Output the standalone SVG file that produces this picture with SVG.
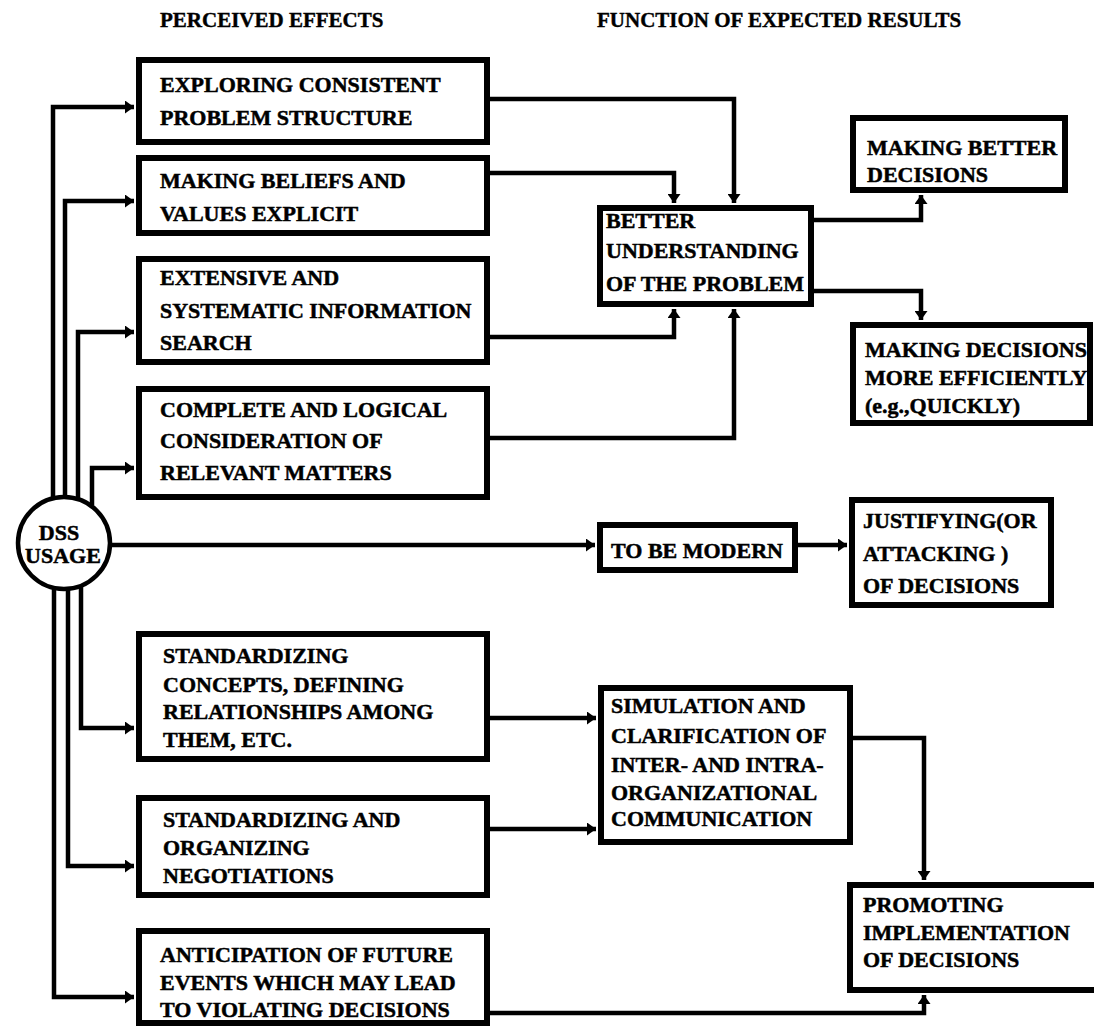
<svg xmlns="http://www.w3.org/2000/svg" width="1094" height="1026" viewBox="0 0 1094 1026">
<defs>
<style>
.box{fill:#fff;stroke:#000;stroke-width:6}
.ln{fill:none;stroke:#000;stroke-width:4.5}
.t{font-family:"Liberation Serif","Times New Roman",serif;font-weight:bold;font-size:22px;fill:#000;stroke:#000;stroke-width:0.5}
.h{font-family:"Liberation Serif","Times New Roman",serif;font-weight:bold;font-size:21px;fill:#000;stroke:#000;stroke-width:0.4}
</style>
<marker id="ah" markerUnits="userSpaceOnUse" markerWidth="9" markerHeight="13" refX="9" refY="6.5" orient="auto">
<path d="M0,0 L9,6.5 L0,13 z" fill="#000"/>
</marker>
</defs>
<rect width="1094" height="1026" fill="#fff"/>
<text class="h" x="160" y="27">PERCEIVED EFFECTS</text>
<text class="h" x="597" y="27">FUNCTION OF EXPECTED RESULTS</text>
<g id="connectors">
<path class="ln" d="M53,500 V107 H134" marker-end="url(#ah)"/>
<path class="ln" d="M65,500 V201 H134" marker-end="url(#ah)"/>
<path class="ln" d="M78,500 V332 H134" marker-end="url(#ah)"/>
<path class="ln" d="M92,505 V468 H134" marker-end="url(#ah)"/>
<path class="ln" d="M54,585 V997 H134" marker-end="url(#ah)"/>
<path class="ln" d="M68,585 V866 H134" marker-end="url(#ah)"/>
<path class="ln" d="M81,585 V728 H134" marker-end="url(#ah)"/>
<path class="ln" d="M110,545 H595" marker-end="url(#ah)"/>
<path class="ln" d="M798,545 H847" marker-end="url(#ah)"/>
<path class="ln" d="M490,99 H734 V203" marker-end="url(#ah)"/>
<path class="ln" d="M490,173 H674 V203" marker-end="url(#ah)"/>
<path class="ln" d="M490,337 H674 V309" marker-end="url(#ah)"/>
<path class="ln" d="M490,438 H734 V309" marker-end="url(#ah)"/>
<path class="ln" d="M814,220 H921 V195" marker-end="url(#ah)"/>
<path class="ln" d="M814,291 H921 V320" marker-end="url(#ah)"/>
<path class="ln" d="M490,718 H596" marker-end="url(#ah)"/>
<path class="ln" d="M490,829 H596" marker-end="url(#ah)"/>
<path class="ln" d="M853,738 H924 V880" marker-end="url(#ah)"/>
<path class="ln" d="M490,1013 H924 V995" marker-end="url(#ah)"/>
</g>
<g id="dss-usage">
<circle cx="64" cy="543" r="46" fill="#fff" stroke="#000" stroke-width="4.5"/>
<text class="t" x="59" y="540" text-anchor="middle" font-size="19">DSS</text>
<text class="t" x="63" y="563" text-anchor="middle" font-size="19">USAGE</text>
</g>
<g id="exploring">
<rect class="box" x="139" y="60" width="348" height="82"/>
<text class="t" x="160" y="92">EXPLORING CONSISTENT</text>
<text class="t" x="160" y="125">PROBLEM STRUCTURE</text>
</g>
<g id="beliefs">
<rect class="box" x="139" y="158" width="348" height="75"/>
<text class="t" x="160" y="188">MAKING BELIEFS AND</text>
<text class="t" x="160" y="221">VALUES EXPLICIT</text>
</g>
<g id="search">
<rect class="box" x="139" y="259" width="348" height="103"/>
<text class="t" x="160" y="285">EXTENSIVE AND</text>
<text class="t" x="160" y="318">SYSTEMATIC INFORMATION</text>
<text class="t" x="160" y="350">SEARCH</text>
</g>
<g id="complete">
<rect class="box" x="139" y="389" width="348" height="108"/>
<text class="t" x="160" y="417">COMPLETE AND LOGICAL</text>
<text class="t" x="160" y="448">CONSIDERATION OF</text>
<text class="t" x="160" y="480">RELEVANT MATTERS</text>
</g>
<g id="concepts">
<rect class="box" x="139" y="634" width="348" height="125"/>
<text class="t" x="163" y="663">STANDARDIZING</text>
<text class="t" x="163" y="692">CONCEPTS, DEFINING</text>
<text class="t" x="163" y="719">RELATIONSHIPS AMONG</text>
<text class="t" x="163" y="747">THEM, ETC.</text>
</g>
<g id="negotiations">
<rect class="box" x="139" y="798" width="348" height="97"/>
<text class="t" x="163" y="827">STANDARDIZING AND</text>
<text class="t" x="163" y="855">ORGANIZING</text>
<text class="t" x="163" y="883">NEGOTIATIONS</text>
</g>
<g id="anticipation">
<rect class="box" x="139" y="931" width="348" height="92"/>
<text class="t" x="160" y="962">ANTICIPATION OF FUTURE</text>
<text class="t" x="160" y="990">EVENTS WHICH MAY LEAD</text>
<text class="t" x="160" y="1017">TO VIOLATING DECISIONS</text>
</g>
<g id="understanding">
<rect class="box" x="600" y="208" width="211" height="96"/>
<text class="t" x="606" y="228">BETTER</text>
<text class="t" x="606" y="258">UNDERSTANDING</text>
<text class="t" x="606" y="291">OF THE PROBLEM</text>
</g>
<g id="better-decisions">
<rect class="box" x="853" y="118" width="212" height="72"/>
<text class="t" x="867" y="155">MAKING BETTER</text>
<text class="t" x="867" y="182">DECISIONS</text>
</g>
<g id="efficiently">
<rect class="box" x="853" y="325" width="237" height="98"/>
<text class="t" x="865" y="357">MAKING DECISIONS</text>
<text class="t" x="865" y="385">MORE EFFICIENTLY</text>
<text class="t" x="865" y="413">(e.g.,QUICKLY)</text>
</g>
<g id="modern">
<rect class="box" x="600" y="525" width="195" height="45"/>
<text class="t" x="611" y="558">TO BE MODERN</text>
</g>
<g id="justifying">
<rect class="box" x="852" y="500" width="199" height="105"/>
<text class="t" x="863" y="528">JUSTIFYING(OR</text>
<text class="t" x="863" y="561">ATTACKING )</text>
<text class="t" x="863" y="593">OF DECISIONS</text>
</g>
<g id="simulation">
<rect class="box" x="601" y="688" width="249" height="154"/>
<text class="t" x="611" y="713">SIMULATION AND</text>
<text class="t" x="611" y="743">CLARIFICATION OF</text>
<text class="t" x="611" y="772">INTER- AND INTRA-</text>
<text class="t" x="611" y="800">ORGANIZATIONAL</text>
<text class="t" x="611" y="826">COMMUNICATION</text>
</g>
<g id="promoting">
<rect class="box" x="850" y="885" width="250" height="105"/>
<text class="t" x="863" y="912">PROMOTING</text>
<text class="t" x="863" y="940">IMPLEMENTATION</text>
<text class="t" x="863" y="967">OF DECISIONS</text>
</g>
</svg>
